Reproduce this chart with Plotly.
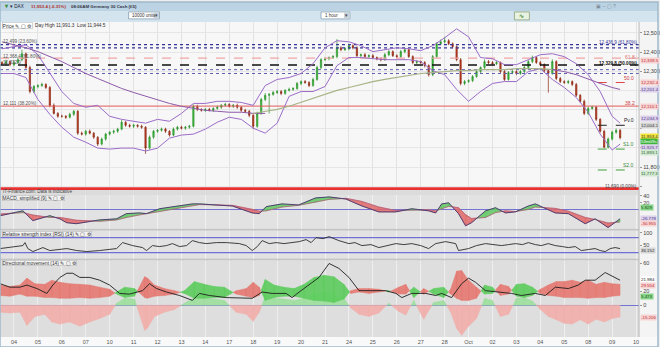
import plotly.graph_objects as go

W, H = 660, 347

# ---------------- data ----------------
day_labels = ["04", "05", "06", "07", "10", "11", "12", "13", "14", "17", "18", "19", "20", "21",
              "24", "25", "26", "27", "28", "Oct", "02", "03", "04", "05", "08", "09", "10"]

# hourly-ish candles: 3 on Sep 03, 6 per day Sep 04 .. Oct 08, 3 on Oct 09
first_open = 12345
close = [
    12339, 12350, 12334,
    12345, 12360, 12391, 12319, 12194, 12220,
    12225, 12231, 12215, 12122, 12080, 12065,
    12065, 12060, 12075, 12091, 11977, 11972,
    11987, 11977, 11956, 11920, 11946, 11972,
    11982, 11987, 11998, 12034, 12018, 12013,
    12018, 12013, 12008, 11899, 11956, 11987,
    11992, 11998, 11987, 11967, 11998, 12008,
    12003, 12008, 12013, 12117, 12101, 12096,
    12101, 12096, 12106, 12112, 12122, 12127,
    12117, 12122, 12112, 12096, 12091, 12070,
    12013, 12080, 12153, 12174, 12179, 12189,
    12194, 12184, 12200, 12205, 12210, 12236,
    12246, 12241, 12225, 12257, 12319, 12360,
    12365, 12371, 12376, 12422, 12412, 12417,
    12433, 12422, 12381, 12386, 12376, 12381,
    12371, 12365, 12360, 12386, 12402, 12381,
    12376, 12402, 12412, 12376, 12345, 12350,
    12345, 12329, 12282, 12376, 12443, 12453,
    12459, 12443, 12428, 12360, 12236, 12246,
    12251, 12272, 12298, 12319, 12350, 12345,
    12339, 12345, 12298, 12257, 12293, 12298,
    12288, 12298, 12319, 12350, 12371, 12345,
    12334, 12303, 12288, 12350, 12262, 12246,
    12241, 12246, 12231, 12174, 12143, 12080,
    12106, 12112, 12049, 11987, 11904, 11946,
    11982, 11992, 11953.4,
]
wick_hi = [
    8, 10, 6,
    9, 12, 22, 6, 10, 8,
    7, 9, 6, 8, 10, 7,
    8, 6, 9, 7, 6, 8,
    7, 9, 6, 5, 8, 7,
    6, 8, 7, 12, 6, 8,
    7, 6, 8, 5, 9, 7,
    6, 8, 7, 6, 9, 7,
    8, 6, 7, 10, 8, 6,
    7, 8, 6, 9, 7, 8,
    6, 7, 9, 6, 8, 7,
    6, 9, 8, 12, 7, 8,
    7, 8, 6, 9, 7, 8,
    6, 8, 7, 9, 10, 8,
    7, 6, 9, 45, 8, 7,
    9, 7, 8, 6, 9, 7,
    8, 6, 7, 9, 8, 7,
    7, 9, 8, 6, 7, 8,
    6, 8, 7, 9, 8, 12,
    20, 8, 7, 6, 9, 8,
    7, 8, 9, 6, 12, 8,
    8, 7, 6, 9, 8, 7,
    7, 9, 8, 7, 10, 6,
    8, 7, 6, 12, 7, 8,
    7, 9, 6, 8, 7, 9,
    8, 9, 7, 6, 8, 9,
    8, 9, 7,
]
wick_lo = [
    7, 9, 8,
    8, 6, 9, 7, 10, 8,
    9, 7, 8, 10, 6, 8,
    7, 9, 6, 8, 9, 7,
    8, 6, 9, 10, 7, 8,
    7, 9, 8, 6, 8, 7,
    9, 7, 8, 30, 7, 9,
    8, 7, 9, 8, 6, 8,
    7, 9, 8, 6, 9, 7,
    8, 6, 9, 7, 8, 6,
    7, 9, 8, 9, 7, 10,
    15, 8, 7, 9, 95, 7,
    8, 9, 7, 6, 8, 7,
    9, 7, 8, 6, 7, 8,
    6, 8, 7, 9, 8, 6,
    8, 9, 7, 8, 6, 9,
    7, 8, 9, 6, 8, 7,
    8, 6, 9, 7, 9, 8,
    7, 9, 10, 8, 6, 7,
    8, 7, 9, 8, 10, 9,
    7, 8, 6, 9, 7, 8,
    8, 7, 9, 8, 6, 8,
    9, 7, 8, 6, 8, 7,
    8, 9, 100, 7, 9, 8,
    7, 8, 9, 8, 7, 9,
    8, 7, 9, 8, 6, 8,
    7, 8, 9,
]

# Bollinger bands, half-day samples from Sep 03 midday to Oct 09 08:00
bb_upper = [12417, 12428, 12438, 12386, 12288, 12194, 12132, 12112, 12122, 12065, 12049, 12039,
            12029, 12049, 12039, 12080, 12132, 12132, 12143, 12143, 12137, 12122, 12225, 12257,
            12267, 12288, 12339, 12422, 12459, 12453, 12433, 12402, 12412, 12422, 12417, 12407,
            12433, 12474, 12521, 12479, 12371, 12365, 12334, 12334, 12360, 12386, 12391, 12376,
            12339, 12282, 12194, 12065, 12029]
bb_lower = [12288, 12288, 12267, 12153, 12075, 12008, 11956, 11930, 11899, 11894, 11899, 11899,
            11884, 11899, 11951, 11967, 11972, 11998, 12034, 12060, 12049, 12003, 11977, 12029,
            12169, 12194, 12194, 12220, 12329, 12371, 12371, 12365, 12360, 12360, 12360, 12350,
            12303, 12282, 12205, 12143, 12194, 12236, 12246, 12246, 12298, 12313, 12257, 12215,
            12163, 12086, 11972, 11889, 11920]
ma_left = [12453, 12438, 12422, 12402, 12376, 12350, 12319, 12288, 12262, 12236, 12210, 12189,
           12169, 12148, 12132, 12117, 12106, 12096, 12091, 12086, 12086, 12080, 12080]
ma_olive = [12080, 12091, 12101, 12117, 12137, 12158, 12179, 12200, 12215, 12231, 12246, 12257,
            12267, 12277, 12288, 12293, 12298, 12303, 12303, 12308, 12308, 12308, 12313, 12313,
            12313, 12308]
ma_right = [12308, 12298, 12282, 12257, 12236, 12215, 12205]

# horizontal levels on the price panel
level_prices = [12438, 12422, 12368, 12332, 12308, 12288, 12118, 11688]
pivot_prices = [12241, 12018, 11894, 11785]
pivot_names = ["50.0", "Pv.0", "S1.0", "S2.0"]

# MACD
macd_t = [-0.58, 0.375, 0.79, 1.5, 1.92, 2.2, 2.6, 3.58, 4.29, 4.7, 5.25, 5.54, 6.08, 7.46, 7.75,
          9.125, 9.96, 10.25, 10.54, 11.2, 11.9, 12.6, 13.17, 13.875, 14.54, 15.25, 15.96, 16.625,
          17.33, 17.625, 17.875, 18.17, 18.58, 18.875, 19.125, 19.71, 20.125, 20.54, 20.96, 21.5,
          21.79, 22.625, 23.17, 23.875, 24.29, 24.83, 25.33]
macd_line = [-17, -3, -31, -17, -26, -37, -40, -29, -26, -11, -9, -11, 3, 17, 17, 11, -9, -11, 9, 17,
             14, 34, 37, 31, 11, -6, -6, 3, -3, -9, 17, 20, -11, -46, -37, -3, 6, -9, -6, 11,
             17, -9, -11, -40, -26, -51, -26]
macd_signal = [-12, -8, -15, -22, -22, -25, -30, -33, -29, -22, -14, -11, -5, 12, 15, 13, 2, -4, -3, 8,
               13, 22, 30, 33, 24, 8, -2, -1, 0, -3, 2, 10, 6, -14, -25, -22, -8, -3, -5, 1,
               8, 4, -4, -22, -28, -38, -35]

# RSI
rsi_t = [-0.58, -0.17, 0.375, 0.46, 0.58, 0.79, 1.21, 1.5, 1.83, 2.21,
         2.625, 3.04, 3.58, 3.92, 4.29, 4.54, 4.96, 5.375, 5.54, 5.79,
         6.08, 6.375, 6.625, 6.92, 7.21, 7.46, 7.75, 8.04, 8.46, 8.875,
         9.42, 9.71, 9.96, 10.17, 10.375, 10.67, 10.96, 11.29, 11.625, 11.92,
         12.21, 12.42, 12.625, 12.92, 13.17, 13.58, 14.0, 14.25, 14.54, 14.92,
         15.25, 15.58, 15.96, 16.29, 16.625, 17.0, 17.33, 17.625, 18.04, 18.46,
         18.58, 19.0, 19.33, 19.71, 20.04, 20.375, 20.67, 20.96, 21.25, 21.5,
         21.79, 22.04, 22.33, 22.625, 22.92, 23.17, 23.46, 23.71, 24.0, 24.29,
         24.5, 24.71, 24.92, 25.125, 25.33]
rsi = [36, 40, 48, 60, 36, 24, 40, 28, 32, 36,
       28, 24, 28, 32, 36, 60, 48, 40, 28, 48,
       44, 48, 56, 44, 48, 68, 60, 56, 60, 60,
       56, 48, 28, 44, 68, 56, 60, 56, 60, 64,
       72, 60, 80, 76, 84, 68, 56, 60, 48, 52,
       40, 48, 56, 52, 56, 48, 36, 56, 64, 56,
       28, 36, 48, 56, 52, 48, 52, 56, 52, 60,
       52, 48, 56, 48, 44, 40, 44, 28, 32, 36,
       28, 24, 36, 40, 36]
rsi_levels = [80, 20]

# Directional movement
dm_t = [-0.58, -0.17, 0.25, 0.54, 0.875, 1.29, 1.58, 1.92, 2.33, 2.75,
        3.17, 3.58, 4.0, 4.29, 4.625, 5.04, 5.46, 5.58, 5.875, 6.29,
        6.71, 7.125, 7.54, 7.96, 8.375, 8.79, 9.29, 9.71, 10.0, 10.25,
        10.5, 10.875, 11.29, 11.71, 12.125, 12.54, 12.96, 13.375, 13.79, 14.08,
        14.42, 14.83, 15.25, 15.67, 16.08, 16.375, 16.71, 17.125, 17.54, 17.96,
        18.25, 18.5, 18.71, 19.0, 19.33, 19.67, 20.0, 20.33, 20.67, 21.0,
        21.33, 21.67, 22.0, 22.33, 22.67, 23.0, 23.33, 23.67, 24.0, 24.33,
        24.67, 25.0, 25.33]
di_plus = [14, 13, 16, 13, 13, 11, 11, 10, 10, 11,
           10, 11, 13, 19, 26, 24, 11, 10, 13, 14,
           16, 21, 34, 30, 27, 26, 16, 13, 11, 14,
           37, 29, 26, 24, 30, 40, 43, 41, 30, 17,
           19, 17, 19, 21, 16, 16, 26, 16, 24, 26,
           16, 10, 7, 7, 10, 29, 26, 14, 16, 30,
           31, 26, 17, 14, 13, 11, 11, 11, 10, 11,
           11, 13, 14]
di_minus = [29, 27, 29, 39, 31, 30, 36, 33, 31, 30,
            29, 26, 23, 16, 11, 13, 41, 39, 29, 24,
            21, 17, 10, 10, 11, 11, 21, 24, 33, 26,
            7, 11, 13, 13, 10, 7, 6, 4, 9, 21,
            24, 24, 23, 19, 26, 30, 11, 24, 16, 11,
            23, 49, 50, 36, 26, 16, 17, 30, 27, 13,
            11, 14, 23, 29, 34, 34, 36, 33, 36, 30,
            33, 31, 30]
dm_hist = [-10, -11, -10, -29, -16, -13, -24, -27, -24, -30,
           -24, -19, -13, 3, 10, 9, -36, -33, -16, -10,
           -6, 3, 11, 11, 9, 7, -10, -13, -23, -10,
           13, 10, 9, 7, 10, 16, 19, 17, 10, -4,
           -13, -16, -11, 3, -9, -14, 7, -20, 4, 7,
           -10, -33, -43, -30, -19, 10, 7, -16, -13, 10,
           11, 6, -6, -16, -21, -26, -27, -21, -27, -20,
           -24, -19, -17]
adx_t = [-0.58, -0.17, 0.25, 0.54, 0.96, 1.375, 1.625, 1.92, 2.21, 2.46,
         2.75, 3.17, 3.58, 4.0, 4.42, 4.83, 5.375, 5.67, 5.96, 6.375,
         6.92, 7.46, 7.75, 8.17, 8.875, 9.42, 9.96, 10.375, 10.79, 11.375,
         11.625, 11.92, 12.33, 12.75, 13.17, 13.58, 14.0, 14.42, 14.96, 15.54,
         15.96, 16.21, 16.625, 17.21, 17.625, 17.875, 18.29, 18.71, 19.0, 19.29,
         19.71, 20.25, 20.79, 21.21, 21.79, 22.21, 22.625, 23.17, 23.58, 23.875,
         24.29, 24.71, 25.125, 25.33]
adx = [31, 26, 26, 29, 24, 17, 29, 40, 46, 46,
       40, 40, 36, 29, 17, 16, 21, 31, 24, 19,
       14, 7, 17, 14, 11, 10, 10, 19, 17, 17,
       11, 19, 29, 40, 60, 53, 40, 21, 21, 21,
       17, 11, 17, 17, 14, 17, 11, 31, 39, 33,
       21, 19, 17, 14, 17, 14, 26, 24, 29, 36,
       36, 47, 40, 36]

# ---------------- derived positions ----------------
t_candle = ([-1 + k / 6 for k in (3, 4, 5)] +
            [d + k / 6 for d in range(25) for k in range(6)] +
            [25 + k / 6 for k in range(3)])
opens = [first_open] + close[:-1]
highs = [max(o, c) + w for o, c, w in zip(opens, close, wick_hi)]
lows = [min(o, c) - w for o, c, w in zip(opens, close, wick_lo)]
t_half = [-0.5 + 0.5 * j for j in range(52)] + [25 + 1 / 3]

XR = [-0.583, 26.125]
XEND = 641 / W
FONT = "Liberation Sans, Arial, sans-serif"


def py(v):
    return 1 - v / H


def band_polys(xs, a, b):
    up_x, up_y, dn_x, dn_y = [], [], [], []
    for i in range(len(xs) - 1):
        x0, x1 = xs[i], xs[i + 1]
        a0, a1, b0, b1 = a[i], a[i + 1], b[i], b[i + 1]
        d0, d1 = a0 - b0, a1 - b1
        pieces = []
        if d0 * d1 < 0:
            f = d0 / (d0 - d1)
            xm = x0 + f * (x1 - x0)
            ym = a0 + f * (a1 - a0)
            pieces.append((x0, a0, b0, xm, ym, ym, d0))
            pieces.append((xm, ym, ym, x1, a1, b1, d1))
        else:
            pieces.append((x0, a0, b0, x1, a1, b1, d0 + d1))
        for xa, aa, ba, xb, ab, bb, s in pieces:
            X = [xa, xb, xb, xa, xa, None]
            Y = [aa, ab, bb, ba, aa, None]
            if s >= 0:
                up_x += X
                up_y += Y
            else:
                dn_x += X
                dn_y += Y
    return (up_x, up_y), (dn_x, dn_y)


fig = go.Figure()


def line(x, y, color, width=1, dash="solid", xa="x", ya="y"):
    fig.add_trace(go.Scatter(x=x, y=y, mode="lines", xaxis=xa, yaxis=ya, hoverinfo="skip",
                             line=dict(color=color, width=width, dash=dash), showlegend=False))


def poly(xy, color, xa, ya):
    fig.add_trace(go.Scatter(x=xy[0], y=xy[1], mode="lines", fill="toself", fillcolor=color,
                             line=dict(color=color, width=0.5), xaxis=xa, yaxis=ya,
                             hoverinfo="skip", showlegend=False))


# ---------------- price panel ----------------
level_styles = [("#34349a", "dot", 1.2), ("#34349a", "dot", 1.2), ("#f2a6a6", "dash", 1.2),
                ("#111111", "dash", 1.5), ("#6060b0", "dot", 1), ("#6060b0", "dot", 1),
                ("#e25a5a", "solid", 1), ("#e83232", "solid", 2.6)]
for lv, (c, d, w) in zip(level_prices, level_styles):
    line(XR, [lv, lv], c, w, d)

pivot_styles = [("#e04848", "dash"), ("#222222", "dash"), ("#3ea03e", "dash"), ("#3ea03e", "dash")]
for lv, (c, d) in zip(pivot_prices, pivot_styles):
    line([24.4, 25.6], [lv, lv], c, 1, d)

line(t_half, bb_upper, "#9b6cc8", 1)
line(t_half, bb_lower, "#9b6cc8", 1)
line(t_half[:23], ma_left, "#8e5aa8", 1)
line(t_half[21:47], ma_olive, "#a8b487", 1.2)
line(t_half[46:], ma_right, "#8e5aa8", 1)

fig.add_trace(go.Candlestick(
    x=t_candle, open=opens, high=highs, low=lows, close=close, xaxis="x", yaxis="y",
    increasing=dict(line=dict(color="#2a8f2a", width=0.7), fillcolor="#3cc63c"),
    decreasing=dict(line=dict(color="#8a2a14", width=0.7), fillcolor="#c83a22"),
    whiskerwidth=0, hoverinfo="skip", showlegend=False))

# ---------------- MACD ----------------
g, r = band_polys(macd_t, macd_line, macd_signal)
poly(g, "rgba(96,200,96,0.85)", "x2", "y2")
poly(r, "rgba(226,104,104,0.85)", "x2", "y2")
line(macd_t, macd_signal, "#b0607a", 0.8, xa="x2", ya="y2")
line(macd_t, macd_line, "#4e3e72", 1, xa="x2", ya="y2")

# ---------------- RSI ----------------
for lv in rsi_levels:
    line(XR, [lv, lv], "#6f6fd6", 1.2, xa="x3", ya="y3")
line(rsi_t, rsi, "#2b2b2b", 0.9, xa="x3", ya="y3")

# ---------------- Directional movement ----------------
g, r = band_polys(dm_t, dm_hist, [0] * len(dm_t))
poly(g, "rgba(160,222,160,0.95)", "x4", "y4")
poly(r, "rgba(240,176,172,0.95)", "x4", "y4")
g, r = band_polys(dm_t, di_plus, di_minus)
poly(g, "rgba(92,204,92,0.9)", "x4", "y4")
poly(r, "rgba(228,120,112,0.9)", "x4", "y4")
line(adx_t, adx, "#1e1e1e", 0.9, xa="x4", ya="y4")

# ---------------- layout ----------------
xbase = dict(range=XR, domain=[0, XEND], tickvals=list(range(27)), showgrid=True, zeroline=False,
             showticklabels=False, ticks="", fixedrange=True, showline=False)
ybase = dict(side="right", fixedrange=True, showline=False, ticks="outside",
             ticklen=2, tickcolor="#999", tickfont=dict(size=5.5, color="#444", family=FONT))

price_ticks = [11700, 11800, 11900, 12000, 12100, 12200, 12300, 12400, 12500]
price_text = ["", "11,800", "", "", "", "", "12,300", "12,400", "12,500"]

fig.update_layout(
    width=W, height=H, margin=dict(l=0, r=0, t=0, b=0),
    paper_bgcolor="#eeeeee", plot_bgcolor="rgba(0,0,0,0)", showlegend=False,
    font=dict(family=FONT, size=6), boxgap=0.55,
    xaxis=dict(**xbase, anchor="y", gridcolor="#e3e3e3", rangeslider=dict(visible=False)),
    xaxis2=dict(**xbase, anchor="y2", gridcolor="#f1f1f1"),
    xaxis3=dict(**xbase, anchor="y3", gridcolor="#f1f1f1"),
    xaxis4=dict(**{**xbase, "showticklabels": True}, anchor="y4", gridcolor="#eeeeee",
                ticktext=day_labels, tickfont=dict(size=5.5, color="#555", family=FONT)),
    yaxis=dict(**ybase, anchor="x", domain=[py(190), py(20)], range=[11676, 12557], zeroline=False,
               tickvals=price_ticks, ticktext=price_text, showgrid=True, gridcolor="#e6e6e6"),
    yaxis2=dict(**ybase, anchor="x2", domain=[py(228), py(194)], range=[-54.3, 42.9],
                tickvals=[40, 20], ticktext=["40", "20"], showgrid=False,
                zeroline=True, zerolinecolor="#7474d4", zerolinewidth=1.2),
    yaxis3=dict(**ybase, anchor="x3", domain=[py(258), py(230)], range=[-4, 108], zeroline=False,
                tickvals=[100, 50], ticktext=["100", "50"], showgrid=False),
    yaxis4=dict(**ybase, anchor="x4", domain=[py(337), py(260)], range=[-45.7, 64.3],
                tickvals=[60, 20, 0], ticktext=["60", "20", "0"], showgrid=False,
                zeroline=True, zerolinecolor="#7474d4", zerolinewidth=1.2),
)

shapes = []


def rect(x0, y0, x1, y1, fill, line_color=None, layer="below", lw=1):
    shapes.append(dict(type="rect", xref="paper", yref="paper", x0=x0 / W, x1=x1 / W,
                       y0=py(y1), y1=py(y0), fillcolor=fill, layer=layer,
                       line=dict(color=line_color or fill, width=lw if line_color else 0)))


# header
rect(0, 0, 660, 9, "#bcd3e3")
rect(0, 9, 660, 20, "#d3e4ef")
# panels
rect(0, 20, 641, 188, "#f7f7f7")
rect(0, 188, 641, 194, "#dcdcdc")
rect(0, 194, 641, 228, "#e2e2e2")
rect(0, 228, 641, 230, "#c4c4c4")
rect(0, 230, 641, 258, "#e2e2e2")
rect(0, 258, 641, 260, "#c4c4c4")
rect(0, 260, 641, 337, "#dedede")
rect(0, 337, 660, 347, "#f9f9f9")
rect(641, 20, 660, 337, "#f4f4f4")
shapes.append(dict(type="line", xref="paper", yref="paper", x0=XEND, x1=XEND, y0=py(337), y1=py(20),
                   line=dict(color="#b8b8b8", width=1), layer="above"))
# dropdown boxes in toolbar
rect(129, 10, 160, 17, "#ffffff", "#8aa0b0", "above", 0.8)
rect(154, 10.5, 159.5, 16.5, "#c8d2da", None, "above")
rect(322, 10, 351, 17, "#ffffff", "#8aa0b0", "above", 0.8)
rect(345, 10.5, 350.5, 16.5, "#c8d2da", None, "above")
rect(516, 10, 531, 18, "#e8f2e0", "#8aa07a", "above", 0.8)
# outer frame
shapes.append(dict(type="rect", xref="paper", yref="paper", x0=0, x1=1, y0=0, y1=1,
                   line=dict(color="#9fb9cb", width=1.5), fillcolor="rgba(0,0,0,0)", layer="above"))
fig.update_layout(shapes=shapes)

ann = []


def text(x, y, s, size=5.5, color="#333", anchor="left", bg=None, border=None):
    d = dict(x=x / W, y=py(y), xref="paper", yref="paper", text=s, showarrow=False,
             xanchor=anchor, yanchor="middle", borderpad=0,
             font=dict(size=size, color=color, family=FONT))
    if bg:
        d["bgcolor"] = bg
    if border:
        d["bordercolor"] = border
        d["borderwidth"] = 0.6
    ann.append(d)


def box(val, s, bg, fg, ya):
    ann.append(dict(x=641.5 / W, y=val, xref="paper", yref=ya, text=s, showarrow=False,
                    xanchor="left", yanchor="middle", bgcolor=bg, borderpad=0,
                    font=dict(size=4.4, color=fg, family=FONT)))


# header texts
text(3, 4.5, "<b>▾</b>", 6, "#3c8c3c")
text(9, 4.5, "▾ DAX", 4.6, "#223")
text(30, 4.5, "<b>11,953.4 (-0.31%)</b>", 4.4, "#b03028")
text(70, 4.5, "<b>08:06AM Germany 30 Cash (£5)</b>", 4.4, "#334")
text(131, 13.5, "10000 units", 4.5, "#333")
text(156.8, 13.5, "▾", 5, "#445", "center")
text(325, 13.5, "1 hour", 4.5, "#333")
text(347.8, 13.5, "▾", 5, "#445", "center")
text(523.5, 14, "<b>∿</b>", 6, "#4a8a3a", "center")
text(619, 4.5, "▣ – ▢ ?", 5, "#7a8a96", "right")

# price panel texts
text(2, 23.5, "Price ✎ ▢ ⚙", 5, "#333", bg="#ffffff", border="#bbbbbb")
text(34, 23.5, "Day High 11,991.3  Low 11,944.5", 4.8, "#333")
text(2, 40, "12,499 (23.60%)", 4.6, "#555")
text(2, 55, "12,368.4 (61.80%)", 4.6, "#555")
text(2, 60.5, "12,332.0", 4.6, "#555")
text(2, 102, "12,111 (38.20%)", 4.6, "#555")
text(640, 41, "12,436.9 (61.80%)", 4.6, "#34349a", "right")
text(640, 61.5, "<b>12,329.8 (50.00%)</b>", 4.6, "#111", "right")
text(640, 185.5, "11,690 (0.00%)", 4.6, "#444", "right")
text(638, 55, "61.8", 5, "#e07070", "right")
text(638, 101.5, "38.2", 5, "#d04040", "right")
for lv, nm, c in zip(pivot_prices, pivot_names, ["#d04040", "#222", "#3a8a3a", "#3a8a3a"]):
    ann.append(dict(x=638 / W, y=lv, xref="paper", yref="y", text=nm, showarrow=False,
                    xanchor="right", yanchor="bottom", font=dict(size=5, color=c, family=FONT)))
text(2, 191, "IT-Finance.com: Data is indicative", 4.6, "#444")

# panel titles
text(2, 197.5, "MACD, simplified (9) ✎ ▢ ⚙", 4.8, "#333", bg="#f2f2f2", border="#b8b8b8")
text(2, 233.5, "Relative strength index (RSI) (14) ✎ ▢ ⚙", 4.8, "#333", bg="#f2f2f2", border="#b8b8b8")
text(2, 263, "Directional movement (14) ✎ ▢ ⚙", 4.8, "#333", bg="#f2f2f2", border="#b8b8b8")

# right value boxes
box(12355, "12,339.5", "#f7d2d2", "#c03030", "y")
box(12241, "12,232.4", "#f7d2d2", "#c03030", "y")
box(12205, "12,201.4", "#dcd0ea", "#503c86", "y")
box(12118, "12,110.1", "#f7d2d2", "#c03030", "y")
box(12052, "12,034.9", "#dcd0ea", "#503c86", "y")
box(12018, "12,004.1", "#d6d6d6", "#333333", "y")
box(11958, "11,953.4", "#f3e43a", "#333333", "y")
box(11931, "53m09s", "#3cb43c", "#ffffff", "y")
box(11904, "11,925.7", "#dcd0ea", "#503c86", "y")
box(11877, "11,893.1", "#d2e8d2", "#2e6a2e", "y")
box(11768, "11,777.3", "#d2e8d2", "#2e6a2e", "y")
box(6, "5.829", "#86d486", "#1f4f1f", "y2")
box(-24.5, "-26.778", "#dcd0ea", "#503c86", "y2")
box(-38, "-30.955", "#f7d2d2", "#c03030", "y2")
box(30, "36.152", "#d6d6d6", "#333333", "y3")
box(37, "21.984", "#ffffff", "#222222", "y4")
box(28, "29.554", "#f7d2d2", "#c03030", "y4")
box(12, "5.473", "#86d486", "#1f4f1f", "y4")
box(-17, "-15.206", "#f7d2d2", "#c03030", "y4")

fig.update_layout(annotations=ann)
fig.write_html("out.html")
